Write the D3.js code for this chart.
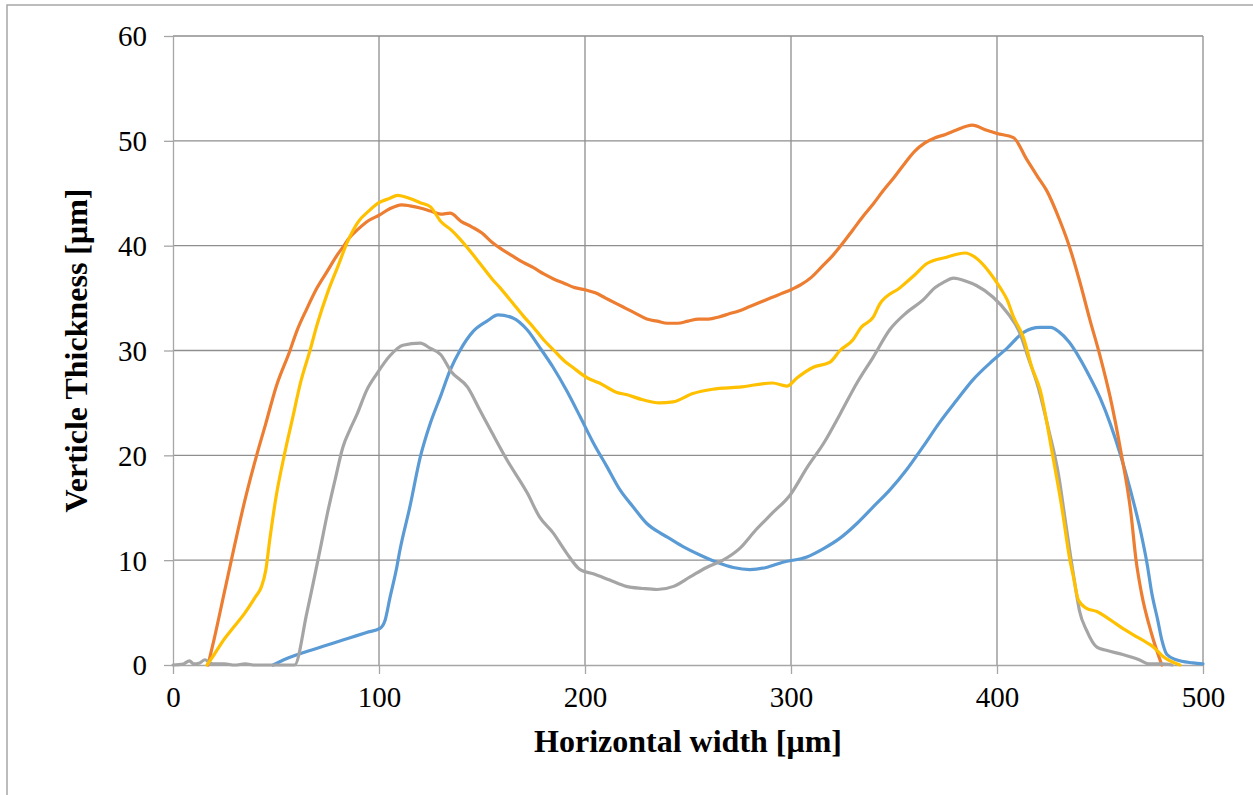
<!DOCTYPE html>
<html>
<head>
<meta charset="utf-8">
<script src="https://cdn.jsdelivr.net/npm/d3@7"></script>
<style>
	body { margin: 0; background: #fff; }
	svg { display: block; }
</style>
</head>
<body>
<script>
// profile readings, [horizontal width in um, thickness in um]
var blue_data = [
	[48.6,0],[55,0.6],[62,1.1],[70,1.6],[78,2.1],[86,2.6],[94,3.1],[100.5,3.5],[103,4.3],[105.3,6.4],[108.7,9.4],
	[110,10.8],[115,15.1],[120,19.8],[125,23.1],[130,25.7],[134.5,28.1],[139.3,30],[145.6,31.8],[152.4,32.8],[157.8,33.4],
	[165,33.1],[171.8,32],[178,30.3],[184.5,28.4],[191,26.2],[197.6,23.7],[204,21.2],[210.7,18.9],[217,16.7],[223.3,15.1],
	[230,13.5],[236.4,12.6],[240,12.2],[247.6,11.3],[255.8,10.5],[264,9.8],[272,9.3],[280,9.1],[288,9.3],[296,9.8],
	[307.7,10.3],[315.8,11.1],[323.8,12.1],[332,13.5],[340,15.1],[348,16.7],[356,18.6],[364,20.8],[372,23.1],[380.6,25.3],
	[388.3,27.2],[396.6,28.8],[404.8,30.2],[412.7,31.7],[420.9,32.2],[426,32.2],[430,31.8],[435,30.8],[440,29.3],[445,27.5],
	[450,25.5],[455,23],[460,20],[465,16.5],[470,12.5],[473,9.5],[475,7],[478,4.3],[480,2.4],[482.5,1],[487,0.5],
	[495,0.2],[500,0.1]
];
var orange_data = [
	[17,0],[20,2.5],[25,7],[30,11.5],[35,15.8],[40.6,20],[45,23],[50,26.5],[56.8,30],[60,31.8],[65,34],[70,36],[75,37.6],
	[80,39.2],[83,40],[85,40.6],[90,41.6],[95,42.4],[100,42.9],[105,43.5],[111,43.9],[115,43.8],[120,43.6],[125,43.3],
	[130,43],[134.5,43.1],[140,42.3],[145,41.8],[150,41.2],[155,40.3],[160,39.6],[165,39],[170,38.4],[175,37.9],[180,37.3],
	[185,36.8],[190,36.4],[195,36],[200,35.8],[205,35.5],[210,35],[215,34.5],[220,34],[225,33.5],[230,33],[235,32.8],
	[240,32.6],[245,32.6],[250,32.8],[255,33],[260,33],[265,33.2],[270,33.5],[275,33.8],[280,34.2],[285,34.6],[290,35],
	[295,35.4],[300,35.8],[305,36.3],[310,37],[315,38],[320,39],[325,40.2],[330,41.5],[335,42.8],[340,44],[345,45.3],
	[350,46.5],[355,47.8],[360,49],[365,49.8],[370,50.3],[375,50.6],[380,51],[388,51.5],[395,51],[400,50.7],[408,50.3],
	[414.5,48.2],[420,46.5],[424,45.3],[430.5,42.4],[435,40],[440,36.7],[445,33],[450,29.5],[455,25.5],[460,20.5],
	[465,14.5],[467.5,10],[470,7],[475,3],[480,0]
];
var gray_data = [
	[0,0],[5,0.1],[8,0.4],[10,0.1],[13,0.2],[15.5,0.5],[18,0.2],[20,0.1],[25,0.1],[30,0],[35,0.1],[40,0],[50,0],[59,0],
	[65,5],[71.4,11],[75,14.5],[78.6,17.6],[82.5,20.8],[86,22.5],[89.3,23.9],[94,26.2],[99,27.8],[105.3,29.5],[111.6,30.5],
	[120,30.7],[125,30.2],[130,29.6],[135,28],[143,26.5],[149,24.3],[155,22.1],[162,19.6],[172,16.4],[178,14.1],[184.5,12.6],
	[191,10.7],[197.6,9.1],[204,8.7],[212,8.1],[220,7.5],[228,7.3],[235,7.2],[243,7.5],[251,8.4],[259,9.3],[267,10],
	[275,11.1],[283,12.9],[291,14.5],[299.5,16.2],[308,18.9],[316,21.2],[324,24],[332,26.9],[340,29.4],[348,32],[356,33.6],
	[364,34.8],[370,36],[374,36.5],[379,36.9],[385,36.6],[390,36.2],[398,35.1],[405,33.6],[411,31.7],[415,29.4],[420,26.5],
	[425,22.5],[430,18],[433,14],[436,10],[438,7.5],[440,5.2],[443.5,3.3],[448.5,1.7],[453,1.4],[461,1],[469,0.5],
	[474,0.1],[480,0.1],[485,0]
];
var yellow_data = [
	[16.5,0],[20,1],[25,2.5],[29,3.5],[35,5],[40,6.5],[43,7.5],[45,9],[47,12],[50,16],[54,20],[58,23.5],[62,27],[66.5,30],
	[70,32.5],[75,35.5],[80,38],[85,40.5],[90,42.3],[95,43.3],[100,44.1],[105,44.5],[109,44.8],[115,44.5],[120,44.1],
	[125,43.7],[130,42.3],[135,41.5],[139,40.7],[145,39.3],[149,38.3],[155,36.8],[158.7,36],[165,34.5],[170,33.3],
	[175,32.2],[180,31],[185,30],[190,29],[194,28.4],[201,27.4],[207,26.9],[215.5,26],[220,25.8],[228,25.3],[236,25],
	[242.7,25.1],[252.4,25.9],[262,26.3],[275,26.5],[291,26.9],[298,26.6],[303,27.4],[310.8,28.4],[319,28.9],[323.8,30],
	[330,31],[334,32.2],[340,33.2],[343,34.4],[353,36],[360,37.2],[366,38.3],[375.6,38.9],[384.5,39.3],[390,38.8],
	[396.6,37.4],[401.5,36],[405,34.8],[408,33.2],[412.7,31.3],[416.9,28.4],[421,26.2],[427,20],[431.5,15],[435.4,10],
	[437,8.5],[439.5,6.2],[443.5,5.4],[448.5,5.1],[455,4.3],[461,3.5],[466,2.9],[473,2.1],[476,1.7],[480.6,0.8],[488.8,0]
];
// drawn in this order, last one on top
var series_list = [blue_data, orange_data, gray_data, yellow_data];
var series_colors = ['#5b9bd5', '#ed7d31', '#a5a5a5', '#ffc000'];

var x_ticks = [0, 100, 200, 300, 400, 500];
var y_ticks = [0, 10, 20, 30, 40, 50, 60];
var x_title = 'Horizontal width [μm]';
var y_title = 'Verticle Thickness [μm]';

function plot_it() {
	var width = 1253, height = 795;
	var left = 173, right = 1203, top = 36, bottom = 665;

	var svg = d3.select('body').append('svg').attr('width', width).attr('height', height);

	// outer frame of the pasted figure
	svg.append('rect').attr('x', 7).attr('y', 5).attr('width', width).attr('height', height)
		.attr('fill', 'none').attr('stroke', '#a6a6a6').attr('stroke-width', 1.5);

	var x = d3.scaleLinear().domain([0, 500]).range([left, right]);
	var y = d3.scaleLinear().domain([0, 60]).range([bottom, top]);

	// gridlines
	svg.append('g').selectAll('line').data(y_ticks.slice(1)).enter().append('line')
		.attr('x1', left).attr('x2', right).attr('y1', d => y(d)).attr('y2', d => y(d))
		.attr('stroke', '#8e8e8e').attr('stroke-width', 1.3);
	svg.append('g').selectAll('line').data(x_ticks.slice(1)).enter().append('line')
		.attr('x1', d => x(d)).attr('x2', d => x(d)).attr('y1', top).attr('y2', bottom)
		.attr('stroke', '#8e8e8e').attr('stroke-width', 1.3);

	// axes
	var x_axis = d3.axisBottom(x).tickValues(x_ticks).tickSizeInner(9).tickSizeOuter(0).tickPadding(12);
	var y_axis = d3.axisLeft(y).tickValues(y_ticks).tickSizeInner(9).tickSizeOuter(0).tickPadding(17);
	var gx = svg.append('g').attr('transform', 'translate(0,' + bottom + ')').call(x_axis);
	var gy = svg.append('g').attr('transform', 'translate(' + left + ',0)').call(y_axis);
	[gx, gy].forEach(g => {
		g.selectAll('path, line').attr('stroke', '#a6a6a6').attr('stroke-width', 1.3);
		g.selectAll('text').attr('font-family', '"Liberation Serif", "Times New Roman", serif')
			.attr('font-size', 29).attr('fill', '#000');
	});
	gy.selectAll('text').attr('dy', '0.34em');

	// profiles
	var line = d3.line().x(d => x(d[0])).y(d => y(d[1])).curve(d3.curveMonotoneX);
	svg.append('g').selectAll('path').data(series_list).enter().append('path')
		.attr('d', line).attr('fill', 'none')
		.attr('stroke', (d, i) => series_colors[i]).attr('stroke-width', 3.2)
		.attr('stroke-linejoin', 'round').attr('stroke-linecap', 'round');

	// axis titles
	svg.append('text').attr('x', (left + right) / 2).attr('y', 752).attr('text-anchor', 'middle')
		.attr('font-family', '"Liberation Serif", "Times New Roman", serif').attr('font-weight', 'bold')
		.attr('font-size', 32).text(x_title);
	svg.append('text').attr('transform', 'translate(87,' + ((top + bottom) / 2) + ') rotate(-90)')
		.attr('text-anchor', 'middle')
		.attr('font-family', '"Liberation Serif", "Times New Roman", serif').attr('font-weight', 'bold')
		.attr('font-size', 32).text(y_title);
}
plot_it();
</script>
</body>
</html>
